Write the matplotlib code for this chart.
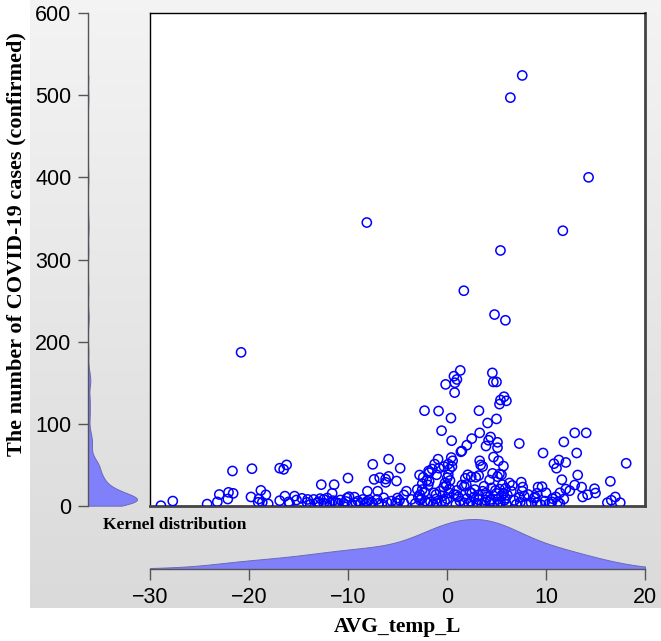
import numpy as np
import matplotlib
matplotlib.use("Agg")
import matplotlib.pyplot as plt

# ---------------- data ----------------
temp = [
    # high values
    7.6, 6.4, 14.3, 11.7, 5.4, 1.7, 4.8, 5.9, -8.1, -20.8,
    1.34, 0.7, 1.0, 0.8, -0.14, 0.77, 4.58, 4.68, 5.0, 5.76, 5.4, 5.3, 6.0,
    -2.27, -0.85, 3.23, 0.4, 4.1, 5.0, -0.55, 3.3, 0.47, 2.5, 4.4, 4.2, 3.94, 5.1, 5.1, 2.0, 1.4, 1.5, 7.3,
    12.9, 14.06, 11.8, 13.1, 9.7, 18.1,
    4.7, 5.2, 5.7, 3.3, 3.4, 3.6, 11.3, 12.0, 10.8, 11.06, 11.6, 13.2, 12.9, 13.6, 14.9, 15.0,
    16.5, 17.0, 16.6, 16.2, 17.5, 14.2, 13.7, 12.4, 12.0,
    11.4, 11.0, 10.65, 10.6, 11.2, 11.8, 11.4, 9.2, 9.6, 10.0, 9.1, 8.8, 9.9, 9.1, 8.5,
    7.5, 7.65, 7.6, 8.2, 7.3, 6.8, 7.4, 7.0,
    6.3, 5.9, 5.3, 5.7, 6.1, 5.0, 5.5, 5.9, 5.1, 4.75, 5.4, 5.8, 5.3, 5.5, 5.1, 4.6, 4.3,
    3.2, 2.45, 2.9, 2.1, 1.85,
    3.74, 3.9, 3.2, 2.5, 2.7, 3.2, 3.9, 4.3, 3.8, 3.0, 2.4, 1.7, 1.5, 1.75, 1.95, 0.94, 1.14, 0.7,
    0.13, 0.03, 0.3, -0.07, 0.26, -0.34, -0.45, -0.24, -0.55, 0.0, -1.1, -0.9, -1.25, -0.8, -0.3,
    0.43, 0.57, 0.13, 0.5, 0.26,
    -1.05, -1.5, -1.86, -2.4, -2.05, -1.8, -1.9, -2.5, -2.27, -1.3, -1.1, -2.74, -2.6, -2.2, -2.74,
    -1.66, -1.4, -2.77, -1.8,
    -4.1, -4.36, -5.0, -5.17, -4.36, -5.0, -5.9, -4.73, -5.1, -7.5, -7.36, -6.8, -6.2, -5.9, -6.2,
    -7.0, -6.4, -7.06, -7.87, -8.07, -8.04, -8.5, -9.35, -9.9, -10.1, -9.2, -9.6, -8.78, -8.14, -6.9,
    -6.05, -10.0, -11.4, -12.7, -11.6,
    -12.8, -12.45, -12.1, -11.5, -11.24, -10.77, -10.43, -11.8, -12.45, -13.13, -13.47, -14.07,
    -14.65, -14.15, -15.4, -15.2, -16.0, -16.37, -15.9, -16.9,
    -16.9, -16.5, -16.2, -19.7, -19.8, -18.8, -18.3, -19.07, -18.66, -18.06, -19.0, -21.67, -21.6,
    -22.07, -22.14, -23.0, -23.2, -24.23, -27.7, -28.9,
    # dense low strip
    -13.8, -13.0, -12.2, -11.0, -10.2, -9.0, -8.3, -7.6, -6.6, -5.6, -4.8, -3.6, -3.2, -2.9, -2.0,
    -1.0, -0.7, 0.2, 0.9, 1.3, 2.0, 2.2, 2.8, 3.5, 4.0, 4.4, 4.9, 5.2, 5.6, 6.0, 6.5, 7.8, 8.0,
    8.9, 9.5, 10.3, -3.0, -2.5, -0.2, 1.0, 2.3, 3.6, 4.5, 6.6,
]
cases = [
    524, 497, 400, 335, 311, 262, 233, 226, 345, 187,
    165, 158, 154, 150, 148, 138, 162, 151, 151, 133, 129, 124, 128,
    116, 115.6, 116, 107, 101, 106, 91.7, 89, 79.5, 82, 84, 80, 73, 77.5, 71, 74, 66, 67, 76,
    89, 89, 78, 64.5, 64.5, 52,
    59.6, 55, 48.6, 55, 50, 48, 56, 53, 51.5, 46, 32, 37.7, 25.5, 23, 21, 15.8,
    30, 11, 7, 4, 4, 13.7, 11, 18.6, 20.6,
    16, 11, 9, 5, 5, 8.5, 3, 23, 23.5, 16, 15.5, 9.7, 6, 4, 4,
    29, 23, 18, 14, 10.5, 6.8, 4.5, 2,
    28, 21.5, 20.6, 15.4, 13.4, 15.4, 12.6, 9.3, 8, 3, 4.5, 7, 39, 38, 35.7, 39.7, 31.6,
    37, 35.6, 35, 38, 33.6,
    24, 15.5, 13.4, 15.4, 10.5, 7.7, 6.9, 5, 4, 3.3, 5.6, 4, 25.5, 24, 26, 13.6, 11, 14,
    38, 34.5, 31, 25, 21, 23, 12.3, 5.7, 5.7, 8.5, 8.5, 57, 51, 46, 48,
    59, 55, 51, 48, 45,
    38, 45, 42.6, 35, 31, 30, 25.5, 20, 17, 16, 14, 13.8, 8.5, 6.1, 7.3,
    5, 2, 37.7, 40.5,
    18, 13.4, 9.7, 4, 3.3, 3.3, 57, 46, 30.4, 50.7, 32.4, 34.5, 32.8, 36, 28.8,
    18, 10, 8, 7.3, 5.7, 18, 8, 10.8, 11.3, 9.7, 4, 2, 3.3, 3.3, 3.3,
    4, 34, 26, 26, 15.4,
    9, 8, 9.7, 6.5, 4, 7.3, 3.3, 3.3, 3.3, 4, 8, 8,
    9.3, 4.5, 12, 7.3, 5, 12, 3.3, 6.5,
    46, 44.6, 50, 45.4, 11, 19, 13.6, 4.5, 4.5, 2.5, 8.5, 42.6, 15.4,
    16.6, 8.5, 14, 5, 2.3, 6, 0.4,
    2, 5, 2.5, 3.5, 5.5, 6, 2, 4.5, 2.5, 6, 7, 8, 3, 11, 4,
    3, 18, 16, 2, 6, 9, 3, 20, 2, 11, 8, 19, 1.5, 26, 2, 18, 12, 2,
    11, 1.5, 3, 20, 27, 28, 19, 17, 18, 22, 25,
]
x_ticks = [-30, -20, -10, 0, 10, 20]
y_ticks = [0, 100, 200, 300, 400, 500, 600]
x_label = "AVG_temp_L"
y_label = "The number of COVID-19 cases (confirmed)"
kde_label = "Kernel distribution"

temp = np.asarray(temp, float)
cases = np.asarray(cases, float)


def kde(data, grid, bw):
    d = (grid[:, None] - data[None, :]) / bw
    return np.exp(-0.5 * d ** 2).sum(axis=1) / (len(data) * bw * np.sqrt(2 * np.pi))


W, H = 661, 641
fig = plt.figure(figsize=(W / 100, H / 100), dpi=100)
fig.patch.set_facecolor("white")


def rect(x0, y0, x1, y1):
    return [x0 / W, 1 - y1 / H, (x1 - x0) / W, (y1 - y0) / H]


# gradient background
bg = fig.add_axes(rect(30, 0, 661, 608), zorder=-10)
grad = np.linspace(0, 1, 256)[:, None]
top = np.array([0.955, 0.955, 0.955])
bot = np.array([0.855, 0.855, 0.855])
img = top[None, None, :] * (1 - grad[:, :, None]) + bot[None, None, :] * grad[:, :, None]
bg.imshow(img, aspect="auto", extent=[0, 1, 0, 1])
bg.set_axis_off()

serif = ["Liberation Serif", "DejaVu Serif"]
sans = ["Liberation Sans", "DejaVu Sans"]

# main scatter
ax = fig.add_axes(rect(150, 13, 645, 506))
ax.set_facecolor("white")
ax.scatter(temp, cases, s=44, facecolors="none", edgecolors="#0000ff", linewidths=1.1, zorder=3)
ax.set_xlim(-30, 20)
ax.set_ylim(0, 600)
ax.set_xticks([])
ax.set_yticks([])
for s in ["top", "left"]:
    ax.spines[s].set_color("black")
    ax.spines[s].set_linewidth(1.0)
for s in ["right", "bottom"]:
    ax.spines[s].set_color("#444444")
    ax.spines[s].set_linewidth(2.0)

kde_face = "#8080fa"
kde_edge = "#6a6ab8"

# left kde (y distribution)
axl = fig.add_axes(rect(88, 13, 150, 506))
axl.patch.set_alpha(0)
yg = np.linspace(cases.min(), cases.max(), 600)
yd = kde(cases, yg, 7.0)
axl.fill_betweenx(yg, 0, yd, facecolor=kde_face, edgecolor=kde_edge, linewidth=0.7)
axl.set_xlim(0, yd.max() * 62 / 49)
axl.set_ylim(0, 600)
for s in ["top", "right", "bottom"]:
    axl.spines[s].set_visible(False)
axl.spines["left"].set_color("#555555")
axl.spines["left"].set_linewidth(1.0)
axl.set_xticks([])
axl.set_yticks(y_ticks)
axl.tick_params(axis="y", direction="out", length=7, width=1, color="#555555",
                pad=5, labelsize=15.5, labelcolor="black")
for t in axl.get_yticklabels():
    t.set_family(sans)

# bottom kde (x distribution)
axb = fig.add_axes(rect(150, 512, 645, 569))
axb.patch.set_alpha(0)
xg = np.linspace(-30, 20, 600)
xd = kde(temp, xg, 3.0)
axb.fill_between(xg, 0, xd, facecolor=kde_face, edgecolor=kde_edge, linewidth=0.7)
axb.set_xlim(-30, 20)
axb.set_ylim(0, xd.max() * 57 / 50)
for s in ["top", "right", "left"]:
    axb.spines[s].set_visible(False)
axb.spines["bottom"].set_color("#555555")
axb.spines["bottom"].set_linewidth(1.0)
axb.set_yticks([])
axb.set_xticks(x_ticks)
axb.tick_params(axis="x", direction="out", length=8, width=1, color="#555555",
                pad=5, labelsize=15.5, labelcolor="black")
for t in axb.get_xticklabels():
    t.set_family(sans)

# texts
fig.text(103 / W, 1 - 525 / H, kde_label, family=serif, weight="bold", fontsize=12.5,
         ha="left", va="center")
fig.text(16 / W, 1 - 244 / H, y_label, family=serif, weight="bold", fontsize=16,
         rotation=90, ha="center", va="center")
fig.text(397 / W, 1 - 627 / H, x_label, family=serif, weight="bold", fontsize=15.5,
         ha="center", va="center")

fig.savefig("out.png", dpi=100)
